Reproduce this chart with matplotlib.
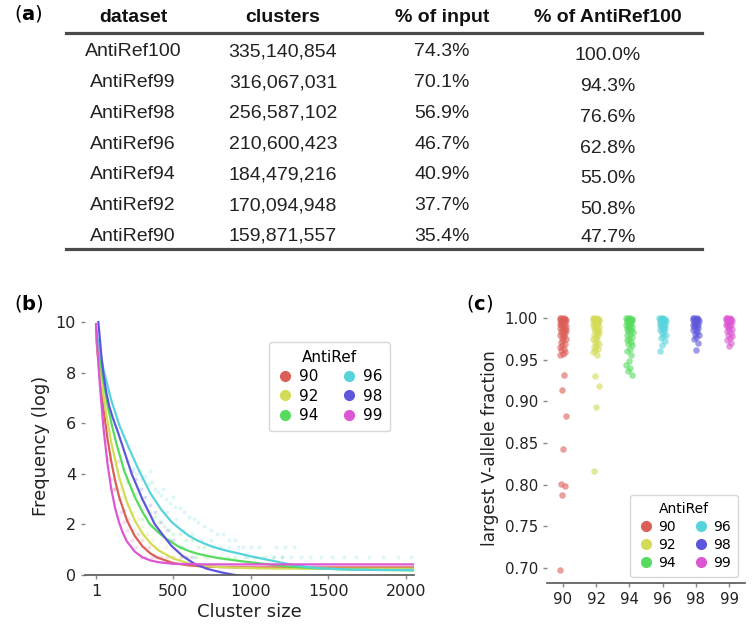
import matplotlib
matplotlib.use('Agg')
import matplotlib.pyplot as plt
from matplotlib.lines import Line2D
import numpy as np
import seaborn as sns

# ---- (a) table data
headers = ['dataset', 'clusters', '% of input', '% of AntiRef100']
datasets = ['AntiRef100', 'AntiRef99', 'AntiRef98', 'AntiRef96', 'AntiRef94', 'AntiRef92', 'AntiRef90']
clusters = [335140854, 316067031, 256587102, 210600423, 184479216, 170094948, 159871557]
pct_input = [74.3, 70.1, 56.9, 46.7, 40.9, 37.7, 35.4]
pct_ref100 = [100.0, 94.3, 76.6, 62.8, 55.0, 50.8, 47.7]

# ---- (b) fitted curves (cluster size, log frequency)
levels = ['90', '92', '94', '96', '98', '99']
x90 = [1, 10, 25, 50, 75, 100, 125, 150, 200, 250, 300, 350, 400, 500, 600, 700, 850, 1000, 1500, 2050]
y90 = [9.50, 8.86, 7.89, 6.52, 5.39, 4.47, 3.71, 3.09, 2.17, 1.55, 1.14, 0.86, 0.68, 0.47, 0.38, 0.33, 0.31, 0.30, 0.30, 0.30]
x92 = [1, 10, 25, 50, 75, 100, 150, 200, 250, 300, 350, 400, 500, 600, 700, 800, 1000, 1200, 1500, 2050]
y92 = [9.55, 9.03, 8.24, 7.07, 6.07, 5.22, 3.87, 2.89, 2.17, 1.65, 1.27, 0.99, 0.65, 0.46, 0.36, 0.31, 0.27, 0.25, 0.25, 0.25]
x94 = [1, 10, 25, 50, 75, 100, 135, 184, 250, 300, 349, 400, 450, 531, 590, 650, 700, 746, 800, 850,
       920, 1000, 1100, 1200, 1300, 1400, 1550, 1700, 2050]
y94 = [9.7, 9.25, 8.6, 7.6, 6.75, 6.0, 5.14, 4.1, 3.1, 2.5, 2.0, 1.7, 1.45, 1.13, 0.97, 0.85, 0.78, 0.72, 0.66, 0.62,
       0.56, 0.5, 0.43, 0.36, 0.31, 0.27, 0.23, 0.21, 0.18]
x96 = [1, 10, 25, 50, 100, 150, 211, 273, 350, 420, 488, 550, 600, 660, 725, 790, 850, 930, 1014, 1100,
       1188, 1260, 1337, 1420, 1500, 1650, 1800, 2050]
y96 = [9.8, 9.4, 8.9, 8.1, 6.9, 5.95, 5.05, 4.2, 3.25, 2.6, 2.1, 1.78, 1.55, 1.35, 1.18, 1.05, 0.95, 0.84, 0.72, 0.61,
       0.5, 0.41, 0.34, 0.28, 0.25, 0.21, 0.2, 0.2]
x98 = [16, 25, 35, 48, 65, 85, 110, 145, 172, 231, 300, 381, 430, 488, 560, 639, 720, 812, 897, 1000]
y98 = [10.0, 9.4, 8.7, 8.0, 7.3, 6.7, 6.2, 5.6, 5.1, 4.0, 3.0, 2.0, 1.6, 1.15, 0.75, 0.43, 0.24, 0.1, 0.0, -0.1]
x99 = [1, 10, 25, 50, 75, 100, 125, 150, 175, 200, 250, 300, 350, 400, 500, 700, 1000, 1500, 2050]
y99 = [9.92, 8.97, 7.58, 5.76, 4.40, 3.38, 2.63, 2.07, 1.65, 1.33, 0.93, 0.70, 0.58, 0.51, 0.44, 0.42, 0.42, 0.42, 0.42]

# faint observed points (cluster size, number of clusters)
pts90 = [(120, 30), (150, 20), (180, 13), (210, 9), (240, 6), (270, 5), (300, 4), (340, 3), (380, 2),
         (420, 2), (460, 2), (500, 2), (550, 2)]
pts92 = [(150, 30), (180, 22), (210, 16), (240, 12), (270, 9), (300, 7), (330, 5), (360, 4), (400, 3),
         (450, 3), (500, 2), (550, 2), (600, 2), (650, 2), (700, 2)]
pts94 = [(200, 40), (230, 30), (260, 25), (290, 20), (320, 16), (350, 12), (380, 10), (410, 8), (440, 7),
         (470, 6), (500, 5), (540, 5), (580, 4), (620, 4), (660, 3), (700, 3), (750, 3), (800, 2), (850, 2),
         (900, 2), (960, 2), (1020, 2), (1080, 2), (1140, 2), (1200, 2), (300, 9), (360, 7), (420, 5),
         (480, 4), (560, 3), (640, 2), (720, 2)]
pts96 = [(240, 70), (260, 55), (280, 62), (300, 45), (320, 50), (340, 36), (360, 40), (380, 30), (400, 27),
         (420, 24), (450, 20), (480, 17), (510, 15), (540, 14), (570, 12), (600, 10), (630, 9), (660, 8),
         (700, 7), (740, 6), (780, 5), (820, 5), (860, 4), (900, 4), (950, 3), (1000, 3), (1050, 3),
         (1100, 2), (1150, 2), (1200, 2), (1260, 2), (1320, 2), (1380, 2), (1450, 2), (1520, 2), (1600, 2),
         (1680, 2), (1760, 2), (1850, 2), (1950, 2), (2030, 2), (560, 6), (620, 5), (680, 4), (740, 4),
         (800, 3), (860, 3), (920, 3), (980, 2), (1040, 2), (1160, 3), (1220, 3), (1280, 3), (520, 9),
         (460, 12), (430, 30), (350, 60), (500, 22)]
pts98 = [(200, 90), (230, 60), (260, 45), (290, 30), (320, 22), (350, 16), (380, 12), (420, 8), (460, 6),
         (500, 4), (540, 3), (580, 2), (620, 2)]
pts99 = [(60, 200), (80, 100), (100, 45), (120, 30), (140, 90), (160, 12), (180, 8), (200, 6), (230, 4),
         (260, 3), (290, 2), (320, 2), (360, 2), (400, 2)]

# ---- (c) largest V-allele fraction per cluster
v90 = [1.000, 1.000, 1.000, 0.999, 0.999, 0.998, 0.998, 0.997, 0.997, 0.996, 0.995, 0.995, 0.994, 0.993,
       0.992, 0.991, 0.990, 0.989, 0.988, 0.987, 0.986, 0.985, 0.984, 0.983, 0.982, 0.980, 0.979, 0.978,
       0.976, 0.975, 0.973, 0.971, 0.969, 0.967, 0.965, 0.963, 0.961, 0.959, 0.957, 0.956, 0.931, 0.913,
       0.882, 0.843, 0.801, 0.798, 0.787, 0.698]
v92 = [1.000, 1.000, 1.000, 0.999, 0.999, 0.998, 0.998, 0.997, 0.996, 0.996, 0.995, 0.994, 0.993, 0.992,
       0.991, 0.990, 0.989, 0.988, 0.987, 0.986, 0.985, 0.983, 0.982, 0.980, 0.979, 0.977, 0.975, 0.973,
       0.971, 0.969, 0.967, 0.965, 0.963, 0.961, 0.959, 0.955, 0.930, 0.918, 0.893, 0.816]
v94 = [1.000, 1.000, 1.000, 0.999, 0.999, 0.998, 0.998, 0.997, 0.997, 0.996, 0.995, 0.994, 0.993, 0.992,
       0.991, 0.990, 0.989, 0.988, 0.987, 0.986, 0.984, 0.983, 0.981, 0.979, 0.977, 0.975, 0.973, 0.971,
       0.969, 0.967, 0.963, 0.960, 0.955, 0.948, 0.944, 0.940, 0.936, 0.932]
v96 = [1.000, 1.000, 1.000, 0.999, 0.999, 0.998, 0.998, 0.997, 0.996, 0.995, 0.994, 0.993, 0.992, 0.991,
       0.990, 0.989, 0.988, 0.987, 0.985, 0.984, 0.982, 0.980, 0.978, 0.976, 0.972, 0.968, 0.960]
v98 = [1.000, 1.000, 1.000, 0.999, 0.999, 0.998, 0.998, 0.997, 0.996, 0.995, 0.994, 0.993, 0.992, 0.991,
       0.990, 0.989, 0.988, 0.986, 0.985, 0.983, 0.981, 0.979, 0.977, 0.975, 0.970, 0.962]
v99 = [1.000, 1.000, 1.000, 0.999, 0.999, 0.998, 0.998, 0.997, 0.996, 0.995, 0.994, 0.993, 0.992, 0.991,
       0.990, 0.989, 0.987, 0.986, 0.984, 0.982, 0.980, 0.978, 0.976, 0.974, 0.970, 0.966]

palette = sns.color_palette('hls', 6)
curves = [(x90, y90), (x92, y92), (x94, y94), (x96, y96), (x98, y98), (x99, y99)]
points = [pts90, pts92, pts94, pts96, pts98, pts99]
fractions = [v90, v92, v94, v96, v98, v99]

plt.rcParams['font.family'] = 'DejaVu Sans'
W, H = 755, 626
fig = plt.figure(figsize=(7.55, 6.26), dpi=100)


def fx(px):
    return px / W


def fy(py):
    return 1 - py / H


# panel letters
for lab, px, py in [('a', 14, 13), ('b', 14, 304), ('c', 466, 304)]:
    fig.text(fx(px), fy(py), r'($\mathbf{%s}$)' % lab, fontsize=14, ha='left', va='center')

# ---- (a) table
col_x = [133, 283, 442, 608]
tfont = 'Liberation Sans'
for cx, h in zip(col_x, headers):
    fig.text(fx(cx), fy(18), h, ha='center', va='center', fontsize=14, fontweight='bold',
             family=tfont, color='#111111')
for i in range(len(datasets)):
    ry = 52 + 30.7 * i
    cells = [datasets[i], f'{clusters[i]:,}', f'{pct_input[i]:.1f}%', f'{pct_ref100[i]:.1f}%']
    for j, (cx, t) in enumerate(zip(col_x, cells)):
        off = 4 if (j == 3 and i < len(datasets) - 1) else (1 if j == 3 else 0)
        fig.text(fx(cx), fy(ry + off), t, ha='center', va='center', fontsize=14,
                 family=tfont, color='#222222')
for ly in [33, 249]:
    fig.add_artist(Line2D([fx(66), fx(702)], [fy(ly), fy(ly)], color='#4a4a4a', lw=2.3))


def style_axes(ax, labelsize):
    for s in ['top', 'right', 'left']:
        ax.spines[s].set_visible(False)
    ax.spines['bottom'].set_color('#555555')
    ax.spines['bottom'].set_linewidth(1.2)
    ax.tick_params(length=3, width=1, color='#888888', labelsize=labelsize, labelcolor='#222222')


# ---- (b) cluster size distribution
axb = fig.add_axes([fx(85), fy(575), fx(414) - fx(85), fy(317) - fy(575)])
for (cx, cy), pts, col in zip(curves, points, palette):
    sz = [p[0] for p in pts]
    cnt = [p[1] for p in pts]
    axb.scatter(sz, np.log(cnt), s=8, color=col, alpha=0.2, linewidths=0)
for (cx, cy), col in zip(curves, palette):
    axb.plot(cx, cy, color=col, lw=1.6)
axb.set_xlim(-70, 2052)
axb.set_ylim(0, 10.2)
axb.set_xticks([1, 500, 1000, 1500, 2000])
axb.set_yticks([0, 2, 4, 6, 8, 10])
style_axes(axb, 11.5)
axb.set_xlabel('Cluster size', fontsize=13, color='#222222', labelpad=3)
axb.set_ylabel('Frequency (log)', fontsize=13, color='#222222')
handles = [Line2D([], [], marker='o', ls='', color=c, markersize=7) for c in palette]
leg = axb.legend(handles, levels, title='AntiRef', ncol=2, loc='upper right',
                 bbox_to_anchor=(0.927, 0.903), borderaxespad=0, fontsize=11, title_fontsize=11,
                 labelspacing=0.3, handletextpad=0.3, columnspacing=1.4, borderpad=0.5,
                 handlelength=1.2, frameon=True)
leg.get_frame().set_edgecolor('#cccccc')

# ---- (c) largest V-allele fraction
axc = fig.add_axes([fx(547), fy(583), fx(745) - fx(547), fy(313) - fy(583)])
for i, (vals, col) in enumerate(zip(fractions, palette)):
    n = len(vals)
    jit = ((np.arange(n) * 0.618034) % 1 - 0.5) * 0.2
    axc.scatter(i + jit, vals, s=22, color=col, alpha=0.6, linewidths=0)
axc.set_xlim(-0.48, 5.48)
axc.set_ylim(0.682, 1.006)
axc.set_xticks(range(6))
axc.set_xticklabels(levels)
axc.set_yticks([0.70, 0.75, 0.80, 0.85, 0.90, 0.95, 1.00])
axc.set_yticklabels(['0.70', '0.75', '0.80', '0.85', '0.90', '0.95', '1.00'])
style_axes(axc, 10.8)
axc.set_ylabel('largest V-allele fraction', fontsize=12.2, color='#222222')
handles = [Line2D([], [], marker='o', ls='', color=c, markersize=7) for c in palette]
leg = axc.legend(handles, levels, title='AntiRef', ncol=2, loc='lower right',
                 bbox_to_anchor=(0.965, 0.022), borderaxespad=0, fontsize=10, title_fontsize=10,
                 labelspacing=0.3, handletextpad=0.3, columnspacing=1.2, borderpad=0.5,
                 handlelength=1.2, frameon=True)
leg.get_frame().set_edgecolor('#cccccc')

fig.savefig('out.png', dpi=100)
